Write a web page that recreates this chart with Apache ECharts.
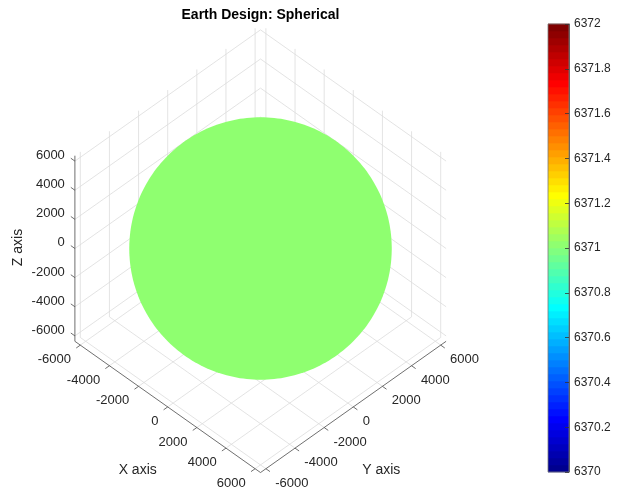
<!DOCTYPE html>
<html>
<head>
<meta charset="utf-8">
<title>Earth Design: Spherical</title>
<script src="https://cdn.jsdelivr.net/npm/echarts@6/dist/echarts.min.js"></script>
<style>
  html, body { margin: 0; padding: 0; background: #ffffff; }
  #chart { width: 627px; height: 489px; }
</style>
</head>
<body>
<div id="chart"></div>
<script>
// ---- data ----
const earthRadius = [6371];                       // km, uniform surface value of the sphere
const axisLimit = 6371;                           // box limits on every axis: [-L, L]
const xTicks = [-6000, -4000, -2000, 0, 2000, 4000, 6000];
const yTicks = [-6000, -4000, -2000, 0, 2000, 4000, 6000];
const zTicks = [-6000, -4000, -2000, 0, 2000, 4000, 6000];
const colorRange = [6370, 6372];                  // colour limits
const colorTickStep = 0.2;
const colorLevels = 64;                           // number of steps in the colormap

// ---- view / layout ----
const FONT = "'Liberation Sans', Arial, Helvetica, sans-serif";
const TEXT = '#262626';
const W = 627, HGT = 489;
const ORIGIN_PX = [260.5, 248.5];                 // where (0,0,0) lands
const PX_PER_KM = 0.0206;
const EL = 45 * Math.PI / 180;
const H = Math.SQRT1_2, SE = Math.sin(EL), CE = Math.cos(EL);

// orthographic view: x runs toward lower right, y toward upper right
function proj(p) {
  return [(p[0] + p[1]) * H, (p[1] - p[0]) * H * SE + p[2] * CE];
}

// MATLAB-style jet colormap
function jet(m) {
  const n = Math.ceil(m / 4);
  const u = [];
  for (let i = 1; i <= n; i++) u.push(i / n);
  for (let i = 1; i < n; i++) u.push(1);
  for (let i = n; i >= 1; i--) u.push(i / n);
  const g0 = Math.ceil(n / 2) - (m % 4 === 1 ? 1 : 0);
  const R = new Array(m).fill(0), G = new Array(m).fill(0), B = new Array(m).fill(0);
  for (let k = 0; k < u.length; k++) {
    const g = g0 + k + 1, r = g + n, b = g - n;
    if (g >= 1 && g <= m) G[g - 1] = u[k];
    if (r >= 1 && r <= m) R[r - 1] = u[k];
    if (b >= 1 && b <= m) B[b - 1] = u[k];
  }
  const out = [];
  for (let i = 0; i < m; i++) {
    out.push('rgb(' + Math.round(R[i] * 255) + ',' + Math.round(G[i] * 255) + ',' + Math.round(B[i] * 255) + ')');
  }
  return out;
}
const cmap = jet(colorLevels);
function colorOf(v) {
  const t = (v - colorRange[0]) / (colorRange[1] - colorRange[0]);
  const idx = Math.max(0, Math.min(colorLevels - 1, Math.floor(t * colorLevels)));
  return cmap[idx];
}

const L = axisLimit;

// back-plane grid lines (floor z=-L, walls x=-L and y=+L)
const gridSegments = [];
xTicks.forEach(t => {
  gridSegments.push([t, -L, -L, t, L, -L]);
  gridSegments.push([t, L, -L, t, L, L]);
});
yTicks.forEach(t => {
  gridSegments.push([-L, t, -L, L, t, -L]);
  gridSegments.push([-L, t, -L, -L, t, L]);
});
zTicks.forEach(t => {
  gridSegments.push([-L, -L, t, -L, L, t]);
  gridSegments.push([-L, L, t, L, L, t]);
});

function toPx(api, p3) { return api.coord(proj(p3)); }

// axis definitions
const axes3d = [
  { name: 'X axis', ticks: xTicks,
    at: t => [t, -L, -L], dir: [0, -1, 0], from: [-L, -L, -L], to: [L, -L, -L],
    labelDist: 640, align: 'right', shift: [0, 8], titleOffset: [-30, 63], rotate: 0 },
  { name: 'Y axis', ticks: yTicks,
    at: t => [L, t, -L], dir: [1, 0, 0], from: [L, -L, -L], to: [L, L, -L],
    labelDist: 640, align: 'left', shift: [0, 8], titleOffset: [28, 63], rotate: 0 },
  { name: 'Z axis', ticks: zTicks,
    at: t => [-L, -L, t], dir: [-1, 0, 0], from: [-L, -L, -L], to: [-L, -L, L],
    labelDist: 690, align: 'right', shift: [0, 1.5], titleOffset: [-57, -1], rotate: Math.PI / 2 }
];
const TICK_LEN = 280;

function axisSeries(ax) {
  return {
    type: 'custom',
    coordinateSystem: 'cartesian2d',
    xAxisIndex: 0, yAxisIndex: 0,
    silent: true,
    z: 5,
    data: ax.ticks.map(t => [t]),
    renderItem: function (params, api) {
      const t = api.value(0);
      const a = ax.at(t);
      const pa = toPx(api, a);
      const pe = toPx(api, [a[0] + ax.dir[0] * TICK_LEN, a[1] + ax.dir[1] * TICK_LEN, a[2] + ax.dir[2] * TICK_LEN]);
      const pl = toPx(api, [a[0] + ax.dir[0] * ax.labelDist, a[1] + ax.dir[1] * ax.labelDist, a[2] + ax.dir[2] * ax.labelDist]);
      const children = [
        { type: 'line', shape: { x1: pa[0], y1: pa[1], x2: pe[0], y2: pe[1] },
          style: { stroke: '#4a4a4a', lineWidth: 0.8 } },
        { type: 'text', x: pl[0] + ax.shift[0], y: pl[1] + ax.shift[1],
          style: { text: String(t), fill: TEXT, fontSize: 13, fontFamily: FONT,
                   align: ax.align, verticalAlign: 'middle' } }
      ];
      if (params.dataIndex === 0) {
        const p0 = toPx(api, ax.from), p1 = toPx(api, ax.to);
        children.push({ type: 'line', shape: { x1: p0[0], y1: p0[1], x2: p1[0], y2: p1[1] },
          style: { stroke: '#4a4a4a', lineWidth: 0.8 } });
        const mid = toPx(api, [(ax.from[0] + ax.to[0]) / 2, (ax.from[1] + ax.to[1]) / 2, (ax.from[2] + ax.to[2]) / 2]);
        children.push({ type: 'text', x: mid[0] + ax.titleOffset[0], y: mid[1] + ax.titleOffset[1],
          rotation: ax.rotate,
          style: { text: ax.name, fill: TEXT, fontSize: 14, fontFamily: FONT,
                   align: 'center', verticalAlign: 'middle' } });
      }
      return { type: 'group', children: children };
    }
  };
}

// colorbar labels: plain numbers, no grouping separators
function cbLabel(v) {
  return String(Math.round(v * 10) / 10);
}

const option = {
  animation: false,
  backgroundColor: '#ffffff',
  grid: [
    { left: 0, top: 0, width: W, height: HGT, show: false },
    { left: 548, top: 24, width: 21, height: 448, show: true, z: 10,
      borderColor: '#7a7a7a', borderWidth: 0.8, backgroundColor: 'transparent' }
  ],
  xAxis: [
    { type: 'value', gridIndex: 0, show: false,
      min: -ORIGIN_PX[0] / PX_PER_KM, max: (W - ORIGIN_PX[0]) / PX_PER_KM },
    { type: 'value', gridIndex: 1, show: false, min: 0, max: 1 }
  ],
  yAxis: [
    { type: 'value', gridIndex: 0, show: false,
      min: -(HGT - ORIGIN_PX[1]) / PX_PER_KM, max: ORIGIN_PX[1] / PX_PER_KM },
    { type: 'value', gridIndex: 1, position: 'right', z: 12,
      min: colorRange[0], max: colorRange[1], interval: colorTickStep,
      axisLine: { show: true, onZero: false, lineStyle: { color: '#4a4a4a', width: 0.8 } },
      axisTick: { show: true, inside: true, length: 4, lineStyle: { color: '#333333', width: 0.8 } },
      axisLabel: { margin: 5, fontSize: 12, color: TEXT, fontFamily: FONT, formatter: cbLabel },
      splitLine: { show: false }
    }
  ],
  graphic: [
    { type: 'text', x: ORIGIN_PX[0], y: 15,
      style: { text: 'Earth Design: Spherical', fill: '#000000', fontSize: 14,
               fontWeight: 'bold', fontFamily: FONT, align: 'center', verticalAlign: 'middle' } }
  ],
  series: [
    // grid lines on the back planes
    {
      type: 'custom', coordinateSystem: 'cartesian2d', xAxisIndex: 0, yAxisIndex: 0,
      silent: true, z: 1,
      data: gridSegments,
      renderItem: function (params, api) {
        const p0 = toPx(api, [api.value(0), api.value(1), api.value(2)]);
        const p1 = toPx(api, [api.value(3), api.value(4), api.value(5)]);
        return { type: 'line', shape: { x1: p0[0], y1: p0[1], x2: p1[0], y2: p1[1] },
                 style: { stroke: '#dcdcdc', lineWidth: 0.8 } };
      }
    },
    // the sphere: its outline is the great circle facing the viewer
    {
      type: 'custom', coordinateSystem: 'cartesian2d', xAxisIndex: 0, yAxisIndex: 0,
      silent: true, z: 3,
      data: earthRadius.map(r => [r]),
      renderItem: function (params, api) {
        const r = api.value(0);
        const e1 = [H, H, 0];
        const e2 = [-H * SE, H * SE, CE];
        const pts = [];
        for (let k = 0; k < 240; k++) {
          const th = 2 * Math.PI * k / 240;
          const c = Math.cos(th), s = Math.sin(th);
          pts.push(toPx(api, [r * (c * e1[0] + s * e2[0]), r * (c * e1[1] + s * e2[1]), r * (c * e1[2] + s * e2[2])]));
        }
        return { type: 'polygon', shape: { points: pts }, style: { fill: colorOf(r) } };
      }
    },
    axisSeries(axes3d[0]),
    axisSeries(axes3d[1]),
    axisSeries(axes3d[2]),
    // colorbar cells
    {
      type: 'custom', coordinateSystem: 'cartesian2d', xAxisIndex: 1, yAxisIndex: 1,
      silent: true, z: 2,
      data: cmap.map((c, i) => [i]),
      renderItem: function (params, api) {
        const i = api.value(0);
        const step = (colorRange[1] - colorRange[0]) / colorLevels;
        const lo = colorRange[0] + i * step, hi = lo + step;
        const pTop = api.coord([0, hi]), pBot = api.coord([1, lo]);
        return { type: 'rect',
                 shape: { x: pTop[0], y: pTop[1] - 0.3, width: pBot[0] - pTop[0], height: pBot[1] - pTop[1] + 0.6 },
                 style: { fill: cmap[i] } };
      }
    }
  ]
};

const chart = echarts.init(document.getElementById('chart'), null, { renderer: 'canvas' });
chart.setOption(option);
</script>
</body>
</html>
